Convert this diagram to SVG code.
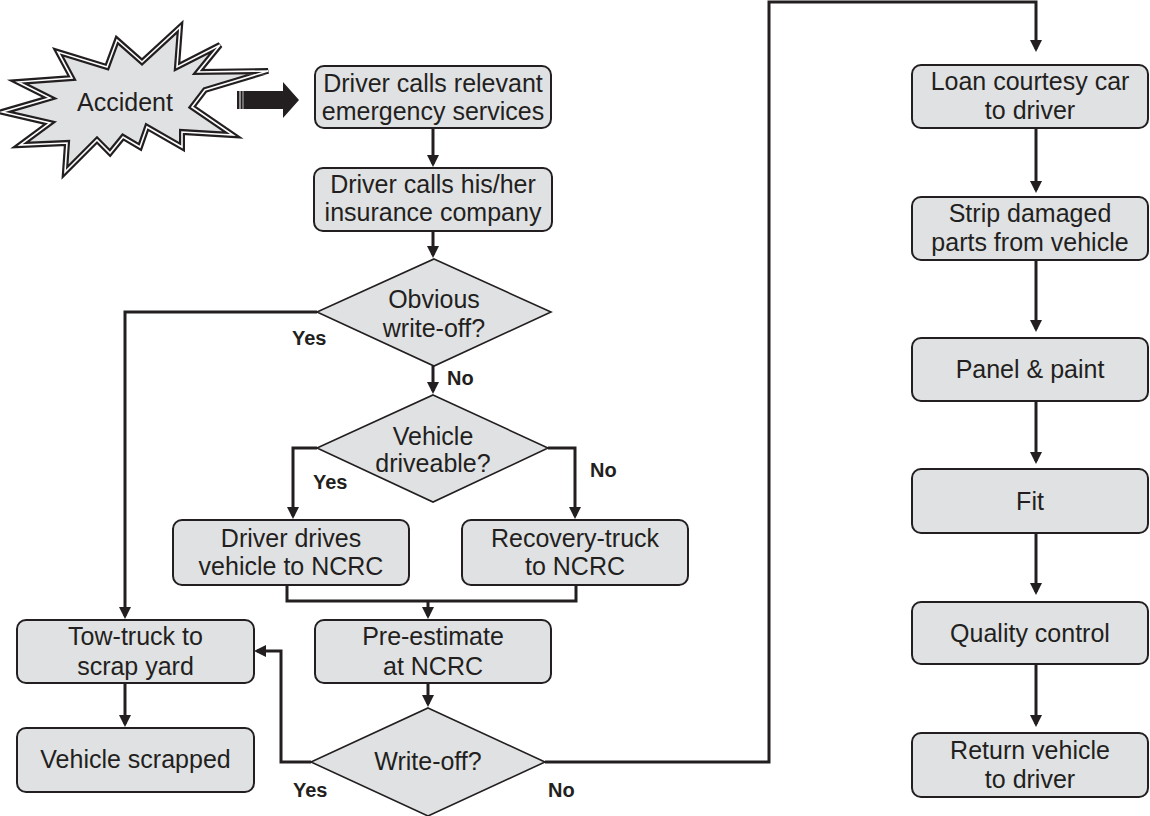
<svg xmlns="http://www.w3.org/2000/svg" width="1150" height="816" viewBox="0 0 1150 816">
<defs>
<style>
.box{fill:#e0e1e3;stroke:#231f20;stroke-width:2}
.dia{fill:#e0e1e3;stroke:#231f20;stroke-width:1.6}
.t{font-family:"Liberation Sans",Arial,sans-serif;font-size:25px;fill:#231f20;text-anchor:middle}
.lb{font-family:"Liberation Sans",Arial,sans-serif;font-size:20px;font-weight:bold;fill:#231f20}
.c{fill:none;stroke:#231f20;stroke-width:3}
.a{marker-end:url(#ah)}
</style>
<marker id="ah" viewBox="0 0 12 12" refX="9" refY="6" markerWidth="12" markerHeight="12" markerUnits="userSpaceOnUse" orient="auto">
<path d="M0,0 L12,6 L0,12 z" fill="#231f20"/>
</marker>
</defs>
<rect width="1150" height="816" fill="#ffffff"/>

<g id="accident">
<polygon points="2,112 50,98 18,82 72,78 58,52 107,67 117,40 142,62 180,27 177,67 220,45 198,72 268,71 205,90 192,107 233,135 182,132 182,147 147,127 140,147 123,137 110,153 97,140 65,172 67,143 20,145 50,123" fill="#e0e1e3" stroke="#231f20" stroke-width="6" stroke-linejoin="miter"/>
<polygon points="2,112 50,98 18,82 72,78 58,52 107,67 117,40 142,62 180,27 177,67 220,45 198,72 268,71 205,90 192,107 233,135 182,132 182,147 147,127 140,147 123,137 110,153 97,140 65,172 67,143 20,145 50,123" fill="none" stroke="#ffffff" stroke-width="1.6" stroke-linejoin="miter"/>
<text class="t" x="125" y="111">Accident</text>
</g>
<g id="bigarrow">
<polygon points="237,91 283,91 283,82 299,100 283,118 283,109 237,109" fill="#231f20"/>
<line x1="240" y1="91" x2="240" y2="109" stroke="#ffffff" stroke-width="1"/>
<line x1="243" y1="91" x2="243" y2="109" stroke="#ffffff" stroke-width="0.7"/>
</g>

<g id="n1"><rect class="box" x="315" y="66" width="236" height="62" rx="9"/>
<text class="t" x="433" y="92">Driver calls relevant</text><text class="t" x="433" y="120">emergency services</text></g>
<g id="n2"><rect class="box" x="314" y="168" width="238" height="63" rx="9"/>
<text class="t" x="433" y="193">Driver calls his/her</text><text class="t" x="433" y="221">insurance company</text></g>
<g id="d1"><polygon class="dia" points="434,259 551,312 434,366 317,312"/>
<text class="t" x="434" y="308">Obvious</text><text class="t" x="434" y="337">write-off?</text></g>
<g id="d2"><polygon class="dia" points="433,395 548,448 433,502 317,448"/>
<text class="t" x="433" y="445">Vehicle</text><text class="t" x="433" y="472">driveable?</text></g>
<g id="n3"><rect class="box" x="173" y="520" width="236" height="65" rx="9"/>
<text class="t" x="291" y="547">Driver drives</text><text class="t" x="291" y="575">vehicle to NCRC</text></g>
<g id="n4"><rect class="box" x="462" y="520" width="226" height="65" rx="9"/>
<text class="t" x="575" y="547">Recovery-truck</text><text class="t" x="575" y="575">to NCRC</text></g>
<g id="n5"><rect class="box" x="315" y="620" width="236" height="63" rx="9"/>
<text class="t" x="433" y="645">Pre-estimate</text><text class="t" x="433" y="675">at NCRC</text></g>
<g id="d3"><polygon class="dia" points="428,708 545,762 428,816 311,762"/>
<text class="t" x="428" y="770">Write-off?</text></g>
<g id="n6"><rect class="box" x="17" y="620" width="237" height="63" rx="9"/>
<text class="t" x="135.5" y="645">Tow-truck to</text><text class="t" x="135.5" y="675">scrap yard</text></g>
<g id="n7"><rect class="box" x="17" y="728" width="237" height="64" rx="9"/>
<text class="t" x="135.5" y="768">Vehicle scrapped</text></g>

<g id="r1"><rect class="box" x="912" y="65" width="236" height="63" rx="9"/>
<text class="t" x="1030" y="90">Loan courtesy car</text><text class="t" x="1030" y="119">to driver</text></g>
<g id="r2"><rect class="box" x="912" y="197" width="236" height="63" rx="9"/>
<text class="t" x="1030" y="222">Strip damaged</text><text class="t" x="1030" y="251">parts from vehicle</text></g>
<g id="r3"><rect class="box" x="912" y="338" width="236" height="63" rx="9"/>
<text class="t" x="1030" y="378">Panel &amp; paint</text></g>
<g id="r4"><rect class="box" x="912" y="469" width="236" height="64" rx="9"/>
<text class="t" x="1030" y="510">Fit</text></g>
<g id="r5"><rect class="box" x="912" y="602" width="236" height="62" rx="9"/>
<text class="t" x="1030" y="642">Quality control</text></g>
<g id="r6"><rect class="box" x="912" y="733" width="236" height="64" rx="9"/>
<text class="t" x="1030" y="759">Return vehicle</text><text class="t" x="1030" y="788">to driver</text></g>

<g id="connectors">
<path class="c a" d="M433,128 V164"/>
<path class="c a" d="M433,231 V255"/>
<path class="c a" d="M433,366 V391"/>
<path class="c a" d="M317,312 H125 V616"/>
<path class="c a" d="M317,448 H293 V516"/>
<path class="c a" d="M548,448 H575 V516"/>
<path class="c" d="M287,585 V601 H576 V585"/>
<path class="c a" d="M428,601 V616"/>
<path class="c a" d="M428,683 V704"/>
<path class="c a" d="M311,762 H281 V651 H257"/>
<path class="c a" d="M545,762 H769 V2 H1036 V49"/>
<path class="c a" d="M125,683 V724"/>
<path class="c a" d="M1036,128 V190"/>
<path class="c a" d="M1036,260 V329"/>
<path class="c a" d="M1036,401 V461"/>
<path class="c a" d="M1036,533 V592"/>
<path class="c a" d="M1036,664 V724"/>
</g>

<g id="labels">
<text class="lb" x="292" y="345">Yes</text>
<text class="lb" x="447" y="385">No</text>
<text class="lb" x="313" y="489">Yes</text>
<text class="lb" x="590" y="477">No</text>
<text class="lb" x="293" y="797">Yes</text>
<text class="lb" x="548" y="797">No</text>
</g>
</svg>
